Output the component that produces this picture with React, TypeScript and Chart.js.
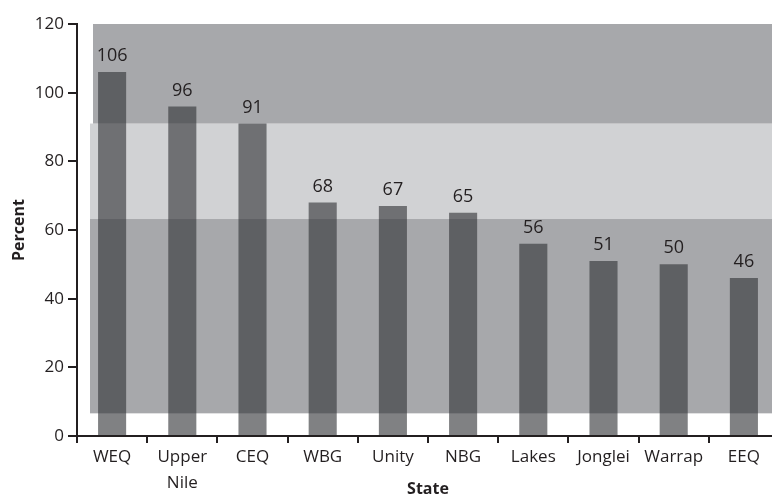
import React, { useEffect, useRef } from "react";
import { Chart, registerables } from "chart.js";

Chart.register(...registerables);

const categories: (string | string[])[] = ["WEQ", ["Upper", "Nile"], "CEQ", "WBG", "Unity", "NBG", "Lakes", "Jonglei", "Warrap", "EEQ"];
const percentValues = [106, 96, 91, 68, 67, 65, 56, 51, 50, 46];
const bandLows = [6.6, 63.2, 91];
const bandHighs = [63.2, 91, 120];
const yTicks = [0, 20, 40, 60, 80, 100, 120];

const TEXT = "#231f20";
const FONT = "'Open Sans', 'Noto Sans', sans-serif";

const bandsPlugin = {
  id: "bands",
  beforeDatasetsDraw(chart: any) {
    const { ctx, chartArea, scales } = chart;
    const y = scales.y;
    const colors = ["#a7a8ab", "#d1d2d4", "#a7a8ab"];
    const insets = [13, 13, 16];
    ctx.save();
    for (let i = 0; i < bandLows.length; i++) {
      const top = y.getPixelForValue(bandHighs[i]);
      const bottom = y.getPixelForValue(bandLows[i]);
      ctx.fillStyle = colors[i];
      ctx.fillRect(chartArea.left + insets[i], top, chartArea.right - chartArea.left - insets[i], bottom - top);
    }
    ctx.restore();
  },
};

const labelsPlugin = {
  id: "valueLabels",
  afterDatasetsDraw(chart: any) {
    const { ctx } = chart;
    const meta = chart.getDatasetMeta(0);
    ctx.save();
    ctx.fillStyle = TEXT;
    ctx.font = `18px ${FONT}`;
    ctx.textAlign = "center";
    ctx.textBaseline = "bottom";
    meta.data.forEach((bar: any, i: number) => {
      ctx.fillText(String(percentValues[i]), bar.x, bar.y - 7);
    });
    ctx.restore();
  },
};

export default function App() {
  const ref = useRef<HTMLCanvasElement>(null);
  useEffect(() => {
    if (!ref.current) return;
    const chart = new Chart(ref.current, {
      type: "bar",
      data: {
        labels: categories,
        datasets: [
          {
            data: percentValues,
            backgroundColor: "rgba(50,51,55,0.62)",
            barPercentage: 0.4,
            categoryPercentage: 1,
          },
        ],
      },
      options: {
        responsive: false,
        animation: false,
        devicePixelRatio: 1,
        layout: { padding: { top: 24, left: 10, right: 0, bottom: 2 } },
        plugins: { legend: { display: false }, tooltip: { enabled: false } },
        scales: {
          x: {
            offset: true,
            grid: { offset: true, drawOnChartArea: false, tickLength: 7, color: TEXT, lineWidth: 2 },
            border: { display: true, color: TEXT, width: 2 },
            ticks: { color: TEXT, font: { family: FONT, size: 17, lineHeight: 1.55 }, padding: 1, maxRotation: 0, autoSkip: false },
            title: { display: true, text: "State", color: TEXT, font: { family: FONT, size: 16, weight: "bold" }, padding: { top: 0, bottom: 0 } },
            afterFit: (s: any) => { s.height = 63; },
          },
          y: {
            min: 0,
            max: 120,
            afterBuildTicks: (s: any) => { s.ticks = yTicks.map((v) => ({ value: v })); },
            grid: { drawOnChartArea: false, tickLength: 9, color: TEXT, lineWidth: 2 },
            border: { display: true, color: TEXT, width: 2 },
            ticks: { color: TEXT, font: { family: FONT, size: 17 }, padding: 4 },
            title: { display: true, text: "Percent", color: TEXT, font: { family: FONT, size: 16, weight: "bold" }, padding: { top: 0, bottom: 4 } },
            afterFit: (s: any) => { s.width = 67; },
          },
        },
      },
      plugins: [bandsPlugin, labelsPlugin],
    });
    return () => chart.destroy();
  }, []);
  return (
    <div style={{ position: "fixed", left: 0, top: 0, width: 772, height: 501, overflow: "hidden", background: "#fff" }}>
      <canvas ref={ref} width={779} height={501} style={{ display: "block" }} />
    </div>
  );
}
